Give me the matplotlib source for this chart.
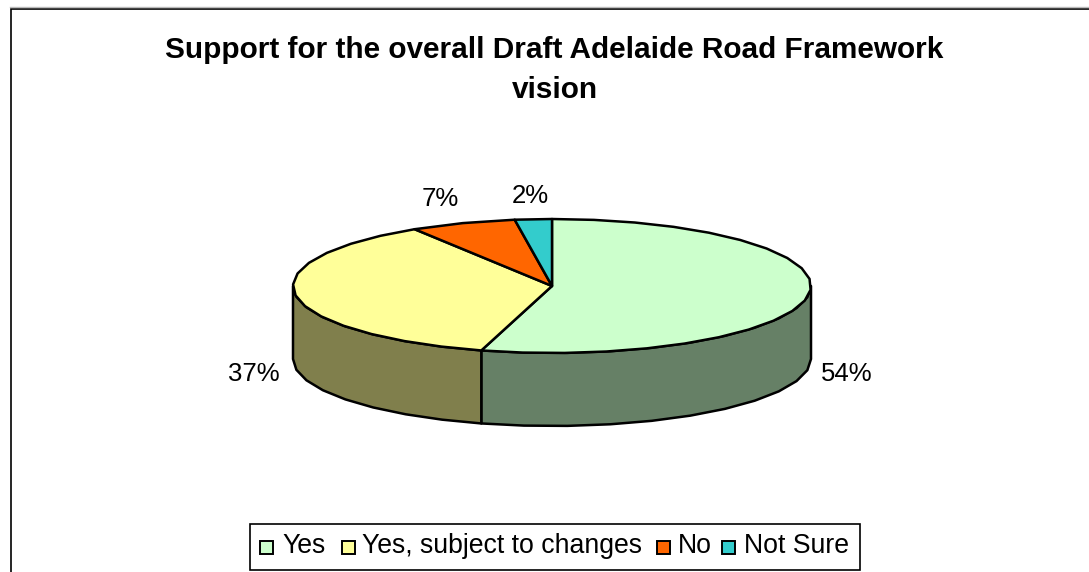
"""
Support for the Draft Adelaide Road Framework vision - flat 3D pie, Excel style.
"""

import matplotlib
matplotlib.use("Agg")
import matplotlib.pyplot as plt
from matplotlib.patches import Rectangle
import numpy as np

title_lines = ["Support for the overall Draft Adelaide Road Framework", "vision"]
categories = ["Yes", "Yes, subject to changes", "No", "Not Sure"]
values = [54.4, 36.7, 6.6, 2.3]
pct_labels = ["54%", "37%", "7%", "2%"]
top_colors = ["#CCFFCC", "#FFFF99", "#FF6600", "#33CCCC"]
side_colors = ["#668066", "#807F4C", "#803300", "#1A6666"]

# pie geometry in pixels, the whole figure is one axes in image coordinates
W, H = 1089, 572
CX, CY = 552, 286
RX, RY = 259, 67
DEPTH = 73
LW = 1.8


def rim(t):
    """Point on the top ellipse, t in degrees clockwise from 12 o'clock."""
    t = np.radians(t)
    return CX + RX * np.sin(t), CY - RY * np.cos(t)


def arc(t0, t1, step=9.0):
    n = max(int(abs(t1 - t0) / step), 1) + 1
    return rim(np.linspace(t0, t1, n))


fig = plt.figure(figsize=(W / 100, H / 100), dpi=100)
ax = fig.add_axes([0, 0, 1, 1])
ax.set_xlim(0, W)
ax.set_ylim(H, 0)
ax.axis("off")
plt.rcParams["font.family"] = ["Liberation Sans", "DejaVu Sans"]

# chart frame: only top and left show, the rest is cropped
ax.plot([10.5, 10.5, W], [H, 8.5, 8.5], color="black", lw=1.2, solid_joinstyle="miter", zorder=1)
ax.plot([10, W], [7, 7], color="#BBBBBB", lw=1, zorder=1)

for i, line in enumerate(title_lines):
    ax.text(554.5, 50.5 + i * 39, line, ha="center", va="center",
            fontsize=21.4, fontweight="bold", color="black")

# slice boundaries
edges = np.concatenate([[0], np.cumsum(values)]) / sum(values) * 360

# side walls, only the front half of the cake shows
for i in range(len(values)):
    t0, t1 = max(edges[i], 90), min(edges[i + 1], 270)
    if t0 >= t1:
        continue
    x, y = arc(t0, t1)
    xs = np.concatenate([x, x[::-1]])
    ys = np.concatenate([y, y[::-1] + DEPTH])
    ax.fill(xs, ys, facecolor=side_colors[i], edgecolor="black", lw=LW, joinstyle="round", zorder=2)

# top faces
for i in range(len(values)):
    x, y = arc(edges[i], edges[i + 1])
    xs = np.concatenate([[CX], x])
    ys = np.concatenate([[CY], y])
    ax.fill(xs, ys, facecolor=top_colors[i], edgecolor="black", lw=LW, joinstyle="round", zorder=3)

# percent labels
label_pos = [(847, 374), (254, 374), (440, 199), (530, 196)]
for txt, (lx, ly) in zip(pct_labels, label_pos):
    ax.text(lx, ly, txt, ha="center", va="center", fontsize=18.5, color="black")

# legend, drawn by hand to hit the Excel spacing
ax.add_patch(Rectangle((250, 524), 610, 46, facecolor="white", edgecolor="black", lw=1.2, zorder=4))
swatch_x = [260, 342, 657, 722]
text_x = [282, 362, 678, 744]
for sx, tx, c, name in zip(swatch_x, text_x, top_colors, categories):
    ax.add_patch(Rectangle((sx, 541), 13, 13, facecolor=c, edgecolor="black", lw=1.4, zorder=5))
    ax.text(tx, 546, name, ha="left", va="center", fontsize=19.2, color="black", zorder=5)

fig.savefig("out.png", dpi=100)
